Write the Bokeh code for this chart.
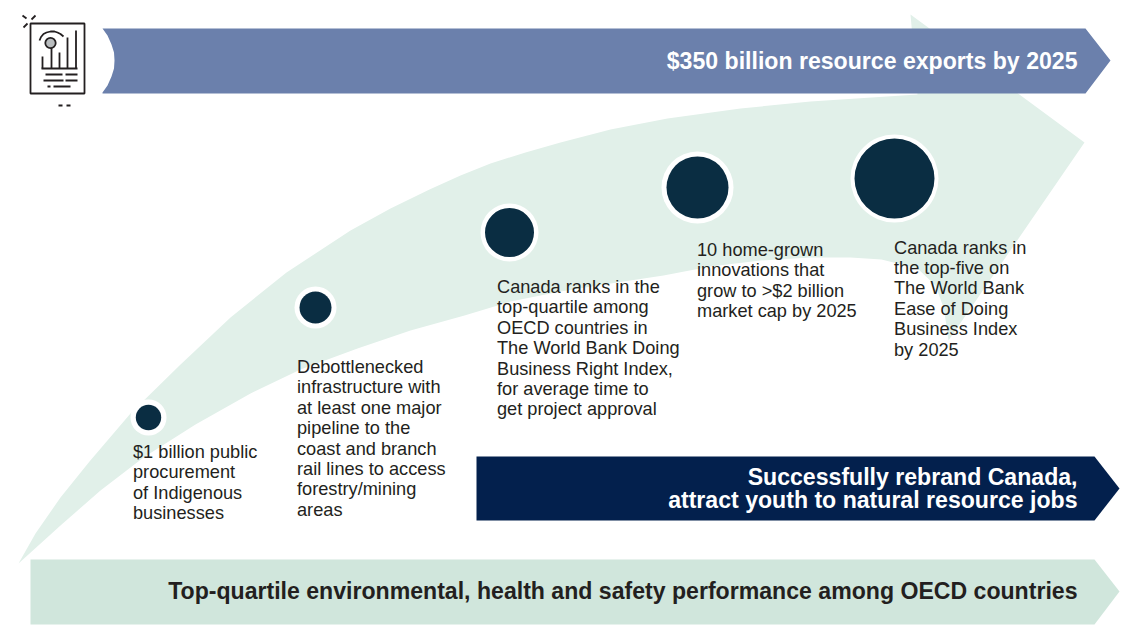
from bokeh.plotting import figure
from bokeh.core.properties import value
from bokeh.embed import file_html
from bokeh.resources import INLINE

# ---- content
milestones = [
    ["$1 billion public", "procurement", "of Indigenous", "businesses"],
    ["Debottlenecked", "infrastructure with", "at least one major", "pipeline to the",
     "coast and branch", "rail lines to access", "forestry/mining", "areas"],
    ["Canada ranks in the", "top-quartile among", "OECD countries in", "The World Bank Doing",
     "Business Right Index,", "for average time to", "get project approval"],
    ["10 home-grown", "innovations that", "grow to >$2 billion", "market cap by 2025"],
    ["Canada ranks in", "the top-five on", "The World Bank", "Ease of Doing",
     "Business Index", "by 2025"],
]
banner_top = ["$350 billion resource exports by 2025"]
banner_mid = ["Successfully rebrand Canada,", "attract youth to natural resource jobs"]
banner_low = ["Top-quartile environmental, health and safety performance among OECD countries"]

# ---- layout (page pixels)
circle_x = [148, 315, 509, 697, 894]
circle_y = [417, 307, 232, 187, 178]
circle_r = [12.7, 16, 24.5, 31, 40]
ring_r = [18, 21, 29, 36, 44]
text_x = [132.5, 296.5, 496.5, 696.5, 893.5]
text_y0 = [451.5, 366.5, 286.5, 249.5, 247]
LINE = 20.4

swoosh_upper = [(18,563),(35,533),(60,497),(89,461),(130,413),(179,365),(230,317),(286,272),
                (350,230),(390,208),(429,189),(460,175),(490,163),(525,152),(560,142),(610,129),
                (667,118),(740,108),(810,101),(917,94)]
swoosh_head = [(910,14),(1084,142),(948,340)]
swoosh_lower = [(946,325),(943,307),(935,285),(917,268),(881,259),(850,257),(810,257),(760,260),
                (710,266),(663,275),(610,283),(560,291),(510,301),(464,315),(410,330),(357,348),
                (300,369),(250,393),(195,424),(143,457),(100,490),(60,525)]
swoosh = swoosh_upper + swoosh_head + swoosh_lower

top_notch = [(102,92),(107,85),(111,76),(113.5,68),(114,60),(113.5,52),(111,44),(107,35),(102,28)]
top_band = top_notch + [(1085,28),(1110,60),(1085,93),(102,93)]
mid_band = [(476,456),(1094,456),(1119,488),(1094,520),(476,520)]
low_band = [(30,559),(1094,559),(1119,591),(1094,624),(30,624)]

C_SWOOSH, C_TOP, C_MID, C_LOW = "#E1F0E9", "#6B80AC", "#03204D", "#D0E6DC"
C_DOT, C_TEXT, C_ICON = "#0A2D42", "#231F20", "#231F20"
FONT = value("Liberation Sans")
BODY = "18.2px"
BOLD = "23.1px"

W, H = 1130, 630
p = figure(width=W, height=H, x_range=(0, W), y_range=(H, 0),
           output_backend="svg", toolbar_location=None, min_border=0,
           outline_line_color=None, background_fill_color="white", border_fill_color="white")
p.axis.visible = False
p.grid.visible = False


def poly(pts, color):
    p.patch([a for a, _ in pts], [b for _, b in pts], fill_color=color, line_color=None)


poly(swoosh, C_SWOOSH)
poly(top_band, C_TOP)
poly(mid_band, C_MID)
poly(low_band, C_LOW)

p.circle(circle_x, circle_y, radius=ring_r, fill_color="white", line_color=None)
p.circle(circle_x, circle_y, radius=circle_r, fill_color=C_DOT, line_color=None)

for lines, x, y0 in zip(milestones, text_x, text_y0):
    p.text([x] * len(lines), [y0 + i * LINE for i in range(len(lines))], text=lines,
           text_font=FONT, text_font_size=BODY, text_color=C_TEXT,
           text_align="left", text_baseline="alphabetic")

p.text([1077], [60], text=banner_top, text_font=FONT, text_font_size=BOLD, text_font_style="bold",
       text_color="white", text_align="right", text_baseline="alphabetic")
p.text([1077, 1077], [476, 499], text=banner_mid, text_font=FONT, text_font_size=BOLD, text_font_style="bold",
       text_color="white", text_align="right", text_baseline="alphabetic")
p.text([1077], [590], text=banner_low, text_font=FONT, text_font_size=BOLD, text_font_style="bold",
       text_color=C_TEXT, text_align="right", text_baseline="alphabetic")

# ---- report icon
icon_segments = [
    (22,15,26,18),(35,15,31,19),(23,27,27,23),
    (42,56,42,68),(51,47,51,68),(59,52,59,68),(67,37,67,68),(75.5,30,75.5,68),(41,68,77,68),
    (45,74,62,74),(65,74,77,74),(43,80,63,80),(65,80,77,80),(47,86,50,86),(53,86,70,86),
    (58,105,62,105),(66,105,70,105),
]
p.segment([s[0] for s in icon_segments], [s[1] for s in icon_segments],
          [s[2] for s in icon_segments], [s[3] for s in icon_segments],
          line_color=C_ICON, line_width=1.8)
p.quad(left=[30], right=[84], top=[23], bottom=[93], fill_color=None, line_color=C_ICON, line_width=1.8)
p.circle([50], [42.5], radius=[5.2], fill_color="#B9BDBF", line_color=C_ICON, line_width=1.8)
icon_arc_x = [39, 40.5, 43, 46, 50, 54, 57, 60, 63]
icon_arc_y = [40, 36.5, 33.5, 32, 31, 31, 32, 33.5, 36]
p.line(icon_arc_x, icon_arc_y, line_color=C_ICON, line_width=1.8)

open("out.html", "w").write(file_html(p, INLINE))
